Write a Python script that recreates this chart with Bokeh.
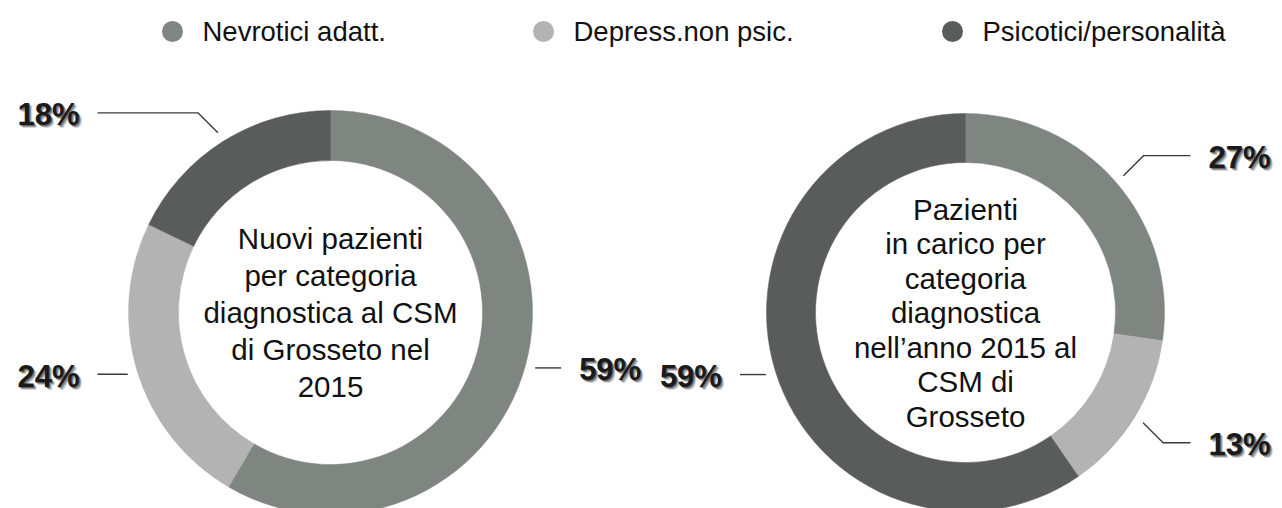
import math
from bokeh.plotting import figure
from bokeh.models import Range1d, ColumnDataSource
from bokeh.core.properties import value
from bokeh.embed import file_html
from bokeh.resources import INLINE

# ---------------- data ----------------
categories = ["Nevrotici adatt.", "Depress.non psic.", "Psicotici/personalità"]
colors = ["#7f8581", "#b3b3b3", "#5a5c5b"]
left_values = [59, 24, 18]
right_values = [27, 13, 59]
left_title = ["Nuovi pazienti", "per categoria", "diagnostica al CSM", "di Grosseto nel", "2015"]
right_title = ["Pazienti", "in carico per", "categoria", "diagnostica", "nell\u2019anno 2015 al", "CSM di", "Grosseto"]

# ---------------- layout ----------------
W, H = 1282, 508
FONT = "Liberation Sans"

p = figure(width=W, height=H, x_range=Range1d(0, W), y_range=Range1d(0, H),
           output_backend="svg", toolbar_location=None, min_border=0,
           x_axis_location=None, y_axis_location=None)
p.grid.visible = False
p.outline_line_color = None
p.background_fill_color = "white"
p.border_fill_color = "white"


def Y(py):
    return H - py


donuts = [
    dict(cx=330, cy=312, r_out=202, r_in=152, values=left_values, title=left_title,
         spacing=37, outer_col=97, outer_sign=-1),
    dict(cx=965, cy=312, r_out=199, r_in=150, values=right_values, title=right_title,
         spacing=34.5, outer_col=1190, outer_sign=1),
]

for d in donuts:
    vals = d["values"]
    tot = float(sum(vals))
    th0, th1 = [], []
    acc = 0.0
    for v in vals:
        th0.append(acc / tot * 2 * math.pi)
        acc += v
        th1.append(acc / tot * 2 * math.pi)
    src = ColumnDataSource(dict(
        x=[d["cx"]] * len(vals), y=[Y(d["cy"])] * len(vals),
        start=[math.pi / 2 - b for b in th1], end=[math.pi / 2 - a for a in th0],
        color=colors,
    ))
    p.annular_wedge(x="x", y="y", inner_radius=d["r_in"], outer_radius=d["r_out"],
                    start_angle="start", end_angle="end", direction="anticlock",
                    fill_color="color", line_color="color", line_width=0.5, source=src)

    # centre title
    n = len(d["title"])
    ys = [Y(d["cy"] + (i - (n - 1) / 2) * d["spacing"]) for i in range(n)]
    p.text(x=[d["cx"]] * n, y=ys, text=d["title"], text_align="center",
           text_baseline="middle", text_font=value(FONT), text_font_size="29.5px",
           text_color="#111111")

    # labels with leader lines
    for v, a, b in zip(vals, th0, th1):
        m = (a + b) / 2
        s, c = math.sin(m), math.cos(m)
        R = d["r_out"] + 10
        sx, sy = d["cx"] + R * s, d["cy"] - R * c
        if abs(c) > 0.5:
            ex, ey = sx + math.copysign(20, s), sy + math.copysign(20, -c)
        else:
            ex, ey = sx, sy
        side = 1 if s > 0 else -1
        if side == d["outer_sign"]:
            hx = d["outer_col"]
        else:
            hx = ex + side * 26
        xs = [sx, ex, hx]
        yl = [Y(sy), Y(ey), Y(ey)]
        p.line(xs, yl, line_color="#3a3a3a", line_width=1.4)
        tx = hx + side * 18
        align = "left" if side > 0 else "right"
        lab = f"{v}%"
        for off, col, al in [(3, "#000000", 0.18), (2, "#000000", 0.3), (1, "#222222", 0.45)]:
            p.text(x=[tx], y=[Y(ey + 2)], text=[lab], text_align=align, text_baseline="middle",
                   text_font=value(FONT), text_font_size="31px", text_font_style="bold",
                   text_color=col, text_alpha=al, x_offset=off, y_offset=off)
        p.text(x=[tx], y=[Y(ey + 2)], text=[lab], text_align=align, text_baseline="middle",
               text_font=value(FONT), text_font_size="31px", text_font_style="bold",
               text_color="#1a1a1a")

# legend
leg_x = [172, 543, 952]
leg_y = 31
p.scatter(x=leg_x, y=[Y(leg_y)] * 3, size=21, marker="circle", fill_color=colors, line_color=None)
p.text(x=[x + 30 for x in leg_x], y=[Y(leg_y)] * 3, text=categories, text_align="left",
       text_baseline="middle", text_font=value(FONT), text_font_size="27.5px", text_color="#111111")

open("out.html", "w").write(file_html(p, INLINE))
